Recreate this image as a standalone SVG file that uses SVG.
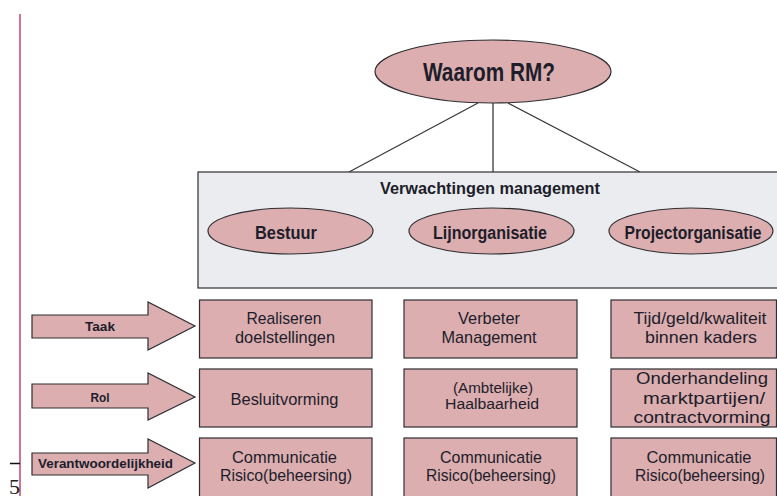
<svg xmlns="http://www.w3.org/2000/svg" width="777" height="496" viewBox="0 0 777 496">
  <style>
    .pink { fill: #dcaeaf; stroke: #2e2e33; stroke-width: 1.2; }
    .panel { fill: #ebecef; stroke: #2e2e33; stroke-width: 1.2; }
    .conn { stroke: #3a3a3a; stroke-width: 1.3; fill: none; }
    .t { font-family: "Liberation Sans", Arial, sans-serif; fill: #1d1d2b; text-anchor: middle; }
    .b { font-weight: bold; }
    .body { font-size: 17px; }
    .tight { font-size: 15.5px; }
  </style>

  <!-- page margin rule and page number -->
  <line x1="20" y1="14" x2="20" y2="496" stroke="#c2456c" stroke-width="1.5"/>
  <line x1="10" y1="463.5" x2="20" y2="463.5" stroke="#111" stroke-width="1.5"/>
  <text x="9" y="494" font-family="Liberation Serif, serif" font-size="22" fill="#222">5</text>

  <!-- connectors from the question to the expectations panel -->
  <g id="connectors">
    <line class="conn" x1="478" y1="103" x2="349" y2="172"/>
    <line class="conn" x1="493" y1="103" x2="493" y2="172"/>
    <line class="conn" x1="508" y1="103" x2="640" y2="172"/>
  </g>

  <g id="waarom">
    <ellipse class="pink" cx="493" cy="71.5" rx="118" ry="31.5"/>
    <text class="t b" x="489" y="80.5" font-size="25" textLength="132" lengthAdjust="spacingAndGlyphs">Waarom RM?</text>
  </g>

  <g id="verwachtingen">
    <rect class="panel" x="198" y="172" width="620" height="116"/>
    <text class="t b" x="490" y="194" font-size="17" textLength="220" lengthAdjust="spacingAndGlyphs">Verwachtingen management</text>
  </g>

  <g id="bestuur">
    <ellipse class="pink" cx="290.5" cy="231" rx="82.5" ry="23"/>
    <text class="t b" x="286" y="238.5" font-size="18" textLength="62" lengthAdjust="spacingAndGlyphs">Bestuur</text>
  </g>
  <g id="lijnorganisatie">
    <ellipse class="pink" cx="491.5" cy="231" rx="82.5" ry="23"/>
    <text class="t b" x="490" y="238.5" font-size="18" textLength="114" lengthAdjust="spacingAndGlyphs">Lijnorganisatie</text>
  </g>
  <g id="projectorganisatie">
    <ellipse class="pink" cx="691" cy="231" rx="82" ry="23"/>
    <text class="t b" x="693" y="238.5" font-size="18" textLength="137" lengthAdjust="spacingAndGlyphs">Projectorganisatie</text>
  </g>

  <!-- row arrows -->
  <g id="taak">
    <polygon class="pink" points="32,315 148,315 148,302 195,326 148,350 148,338 32,338"/>
    <text class="t b" x="100" y="331" font-size="13" textLength="30" lengthAdjust="spacingAndGlyphs">Taak</text>
  </g>
  <g id="rol">
    <polygon class="pink" points="32,384 148,384 148,373 195,397 148,420 148,408 32,408"/>
    <text class="t b" x="100" y="402" font-size="13" textLength="19" lengthAdjust="spacingAndGlyphs">Rol</text>
  </g>
  <g id="verantwoordelijkheid">
    <polygon class="pink" points="32,453 148,453 148,439 195,463 148,488 148,475 32,475"/>
    <text class="t b" x="105.5" y="468" font-size="13.5" textLength="135" lengthAdjust="spacingAndGlyphs">Verantwoordelijkheid</text>
  </g>

  <!-- column 1: Bestuur -->
  <g id="b-taak">
    <rect class="pink" x="199.5" y="300" width="172.5" height="58"/>
    <text class="t body" x="284" y="324" textLength="75" lengthAdjust="spacingAndGlyphs">Realiseren</text>
    <text class="t body" x="285" y="343" textLength="100" lengthAdjust="spacingAndGlyphs">doelstellingen</text>
  </g>
  <g id="b-rol">
    <rect class="pink" x="199.5" y="369" width="172.5" height="58"/>
    <text class="t body" x="284.5" y="405" textLength="108" lengthAdjust="spacingAndGlyphs">Besluitvorming</text>
  </g>
  <g id="b-verantw">
    <rect class="pink" x="199.5" y="438" width="172.5" height="70"/>
    <text class="t body" x="284.5" y="463" textLength="105" lengthAdjust="spacingAndGlyphs">Communicatie</text>
    <text class="t body" x="286" y="481" textLength="132" lengthAdjust="spacingAndGlyphs">Risico(beheersing)</text>
  </g>

  <!-- column 2: Lijnorganisatie -->
  <g id="l-taak">
    <rect class="pink" x="404" y="300" width="173" height="58"/>
    <text class="t body" x="489" y="324" textLength="62" lengthAdjust="spacingAndGlyphs">Verbeter</text>
    <text class="t body" x="489" y="343" textLength="95" lengthAdjust="spacingAndGlyphs">Management</text>
  </g>
  <g id="l-rol">
    <rect class="pink" x="404" y="369" width="173" height="58"/>
    <text class="t tight" x="493" y="392.5" textLength="80" lengthAdjust="spacingAndGlyphs">(Ambtelijke)</text>
    <text class="t tight" x="492" y="409" textLength="94" lengthAdjust="spacingAndGlyphs">Haalbaarheid</text>
  </g>
  <g id="l-verantw">
    <rect class="pink" x="404" y="438" width="173" height="70"/>
    <text class="t body" x="491" y="463" textLength="102" lengthAdjust="spacingAndGlyphs">Communicatie</text>
    <text class="t body" x="491" y="481" textLength="130" lengthAdjust="spacingAndGlyphs">Risico(beheersing)</text>
  </g>

  <!-- column 3: Projectorganisatie -->
  <g id="p-taak">
    <rect class="pink" x="611" y="300" width="165.5" height="58"/>
    <text class="t body" x="700" y="324" textLength="133" lengthAdjust="spacingAndGlyphs">Tijd/geld/kwaliteit</text>
    <text class="t body" x="701" y="343" textLength="112" lengthAdjust="spacingAndGlyphs">binnen kaders</text>
  </g>
  <g id="p-rol">
    <rect class="pink" x="611" y="369" width="165.5" height="58"/>
    <text class="t body" x="702" y="384" textLength="132" lengthAdjust="spacingAndGlyphs">Onderhandeling</text>
    <text class="t body" x="704" y="404" textLength="122" lengthAdjust="spacingAndGlyphs">marktpartijen/</text>
    <text class="t body" x="702" y="423" textLength="137" lengthAdjust="spacingAndGlyphs">contractvorming</text>
  </g>
  <g id="p-verantw">
    <rect class="pink" x="611" y="438" width="165.5" height="70"/>
    <text class="t body" x="699" y="463" textLength="105" lengthAdjust="spacingAndGlyphs">Communicatie</text>
    <text class="t body" x="700" y="481" textLength="130" lengthAdjust="spacingAndGlyphs">Risico(beheersing)</text>
  </g>
</svg>
